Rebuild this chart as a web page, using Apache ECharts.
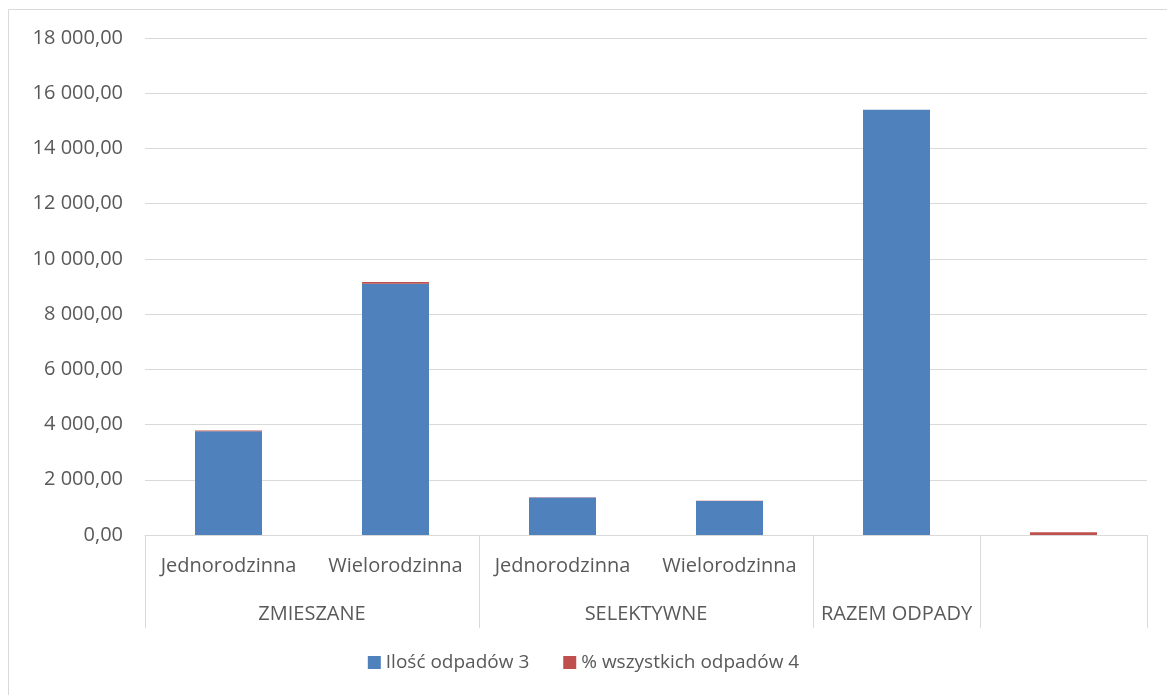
<!DOCTYPE html>
<html>
<head>
<meta charset="utf-8">
<script src="https://cdn.jsdelivr.net/npm/echarts@6/dist/echarts.min.js"></script>
<style>
html,body{margin:0;padding:0;background:#fff;}
#c{width:1167px;height:695px;}
</style>
</head>
<body>
<div id="c"></div>
<script>
// Data
const subCategories = ['Jednorodzinna', 'Wielorodzinna', 'Jednorodzinna', 'Wielorodzinna', '', ''];
const groupLabels = ['ZMIESZANE', 'SELEKTYWNE', 'RAZEM ODPADY'];
const groupCenters = [1, 3, 4.5];
const groupBoundaries = [0, 2, 4, 5, 6];
const seriesNames = ['Ilość odpadów 3', '% wszystkich odpadów 4'];
const amounts = [3760, 9100, 1360, 1235, 15400, 0];
const percents = [24.4, 58.9, 8.8, 8.0, 0, 100];
const yTicks = [0, 2000, 4000, 6000, 8000, 10000, 12000, 14000, 16000, 18000];

function fmt(v) {
  const parts = v.toFixed(2).split('.');
  const intPart = parts[0].replace(/\B(?=(\d{3})+(?!\d))/g, ' ');
  return intPart + ',' + parts[1];
}

const textColor = '#595959';
const lineColor = '#d9d9d9';
const font = 'Open Sans';
const fs = 20;

const chart = echarts.init(document.getElementById('c'), null, {renderer: 'canvas'});
chart.setOption({
  animation: false,
  textStyle: {fontFamily: font},
  graphic: [{
    type: 'rect',
    shape: {x: 8.5, y: 9.5, width: 1170, height: 700},
    style: {fill: 'none', stroke: lineColor, lineWidth: 1},
    silent: true, z: -10
  }],
  grid: {left: 145, right: 20, top: 38, bottom: 160, containLabel: false},
  legend: {
    data: seriesNames,
    bottom: 18,
    left: 'center',
    itemWidth: 13, itemHeight: 13,
    itemGap: 34,
    icon: 'rect',
    textStyle: {color: textColor, fontSize: 19, fontFamily: font}
  },
  xAxis: [{
    type: 'category',
    data: subCategories,
    axisLine: {show: true, lineStyle: {color: lineColor}},
    axisTick: {show: false},
    axisLabel: {color: textColor, fontSize: fs, fontFamily: font, margin: 21, interval: 0}
  }, {
    type: 'value',
    min: 0, max: 6,
    position: 'bottom',
    axisLine: {show: false},
    splitLine: {show: false},
    axisTick: {show: true, customValues: groupBoundaries, length: 93, lineStyle: {color: lineColor}},
    axisLabel: {
      show: true,
      customValues: groupCenters,
      color: textColor, fontSize: fs, fontFamily: font,
      margin: 69,
      formatter: function (v) {
        const i = groupCenters.indexOf(v);
        return i >= 0 ? groupLabels[i] : '';
      }
    }
  }],
  yAxis: {
    type: 'value',
    min: 0, max: 18000, interval: 2000,
    axisLine: {show: false},
    axisTick: {show: false},
    splitLine: {lineStyle: {color: lineColor, width: 1}},
    axisLabel: {
      color: textColor, fontSize: fs, fontFamily: font, margin: 22,
      customValues: yTicks,
      formatter: function (v) { return fmt(v); }
    }
  },
  series: [{
    name: seriesNames[0],
    type: 'bar',
    stack: 's',
    xAxisIndex: 0,
    data: amounts,
    barWidth: 67,
    itemStyle: {color: '#4F81BD'}
  }, {
    name: seriesNames[1],
    type: 'bar',
    stack: 's',
    xAxisIndex: 0,
    data: percents,
    barWidth: 67,
    itemStyle: {color: '#C0504D'}
  }]
});
</script>
</body>
</html>
